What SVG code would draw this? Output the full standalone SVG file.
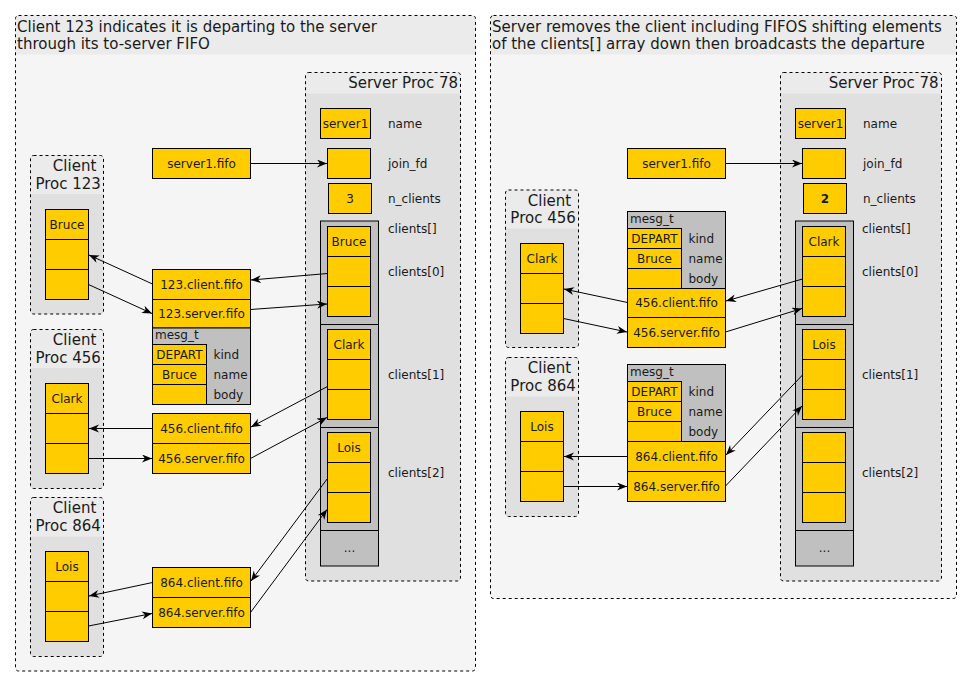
<svg xmlns="http://www.w3.org/2000/svg" width="972" height="687" viewBox="0 0 972 687">
<defs>
<style>
text{font-family:"DejaVu Sans","Liberation Sans",sans-serif;fill:#1a1a1a}
.t15{font-size:15px}
.t12{font-size:12px}
.mid{text-anchor:middle}
.end{text-anchor:end}
.y{fill:#ffcc00;stroke:#000;stroke-width:1}
.g{fill:#c0c0c0;stroke:#000;stroke-width:1}
.dash{fill:none;stroke:#000;stroke-width:1;stroke-dasharray:3 3}
.pbody{fill:#f5f5f5}
.pband{fill:#ebebeb}
.sbody{fill:#e0e0e0}
.sband{fill:#ebebeb}
.c{fill:none;stroke:#000;stroke-width:1;marker-end:url(#ah)}
</style>
<marker id="ah" markerUnits="userSpaceOnUse" markerWidth="11" markerHeight="9" refX="10" refY="4" orient="auto" viewBox="0 0 11 9">
<path d="M0,0 L10,4 L0,8 L3,4 Z" fill="#000"/>
</marker>
</defs>

<!-- ===== LEFT PANEL ===== -->
<g id="panel-left">
<rect class="pbody" x="15.5" y="15.5" width="460" height="655.5" rx="3"/>
<path class="pband" d="M15.5,54.5 V18.5 Q15.5,15.5 18.5,15.5 H472.5 Q475.5,15.5 475.5,18.5 V54.5 Z"/>
<rect class="dash" x="15.5" y="15.5" width="460" height="655.5" rx="3"/>
<text class="t15" x="17" y="32">Client 123 indicates it is departing to the server</text>
<text class="t15" x="17" y="48.5">through its to-server FIFO</text>
</g>

<g id="server-left">
<rect class="sbody" x="305.5" y="72.5" width="155" height="508.5" rx="3"/>
<path class="sband" d="M305.5,93.5 V75.5 Q305.5,72.5 308.5,72.5 H457.5 Q460.5,72.5 460.5,75.5 V93.5 Z"/>
<rect class="dash" x="305.5" y="72.5" width="155" height="508.5" rx="3"/>
<text class="t15 end" x="458" y="87.7">Server Proc 78</text>
<g id="l-name"><rect class="y" x="320.5" y="108.5" width="50" height="30"/><text class="t12 mid" x="345.5" y="127.5">server1</text></g>
<text class="t12" x="388" y="127.5">name</text>
<g id="l-joinfd"><rect class="y" x="327.5" y="148.5" width="43" height="30"/></g>
<text class="t12" x="388" y="167.5">join_fd</text>
<g id="l-nclients"><rect class="y" x="328.5" y="183.5" width="43" height="30"/><text class="t12 mid" x="350" y="202.5">3</text></g>
<text class="t12" x="388" y="202.5">n_clients</text>
<g id="l-clients">
<rect class="g" x="320.5" y="221" width="58" height="103.5"/>
<rect class="g" x="320.5" y="324.5" width="58" height="103"/>
<rect class="g" x="320.5" y="427.5" width="58" height="103"/>
<rect class="g" x="320.5" y="530.5" width="58" height="35.5"/>
<text class="t12 mid" x="349.5" y="552">...</text>
<rect class="y" x="327.5" y="226.5" width="43" height="30"/><text class="t12 mid" x="349" y="245.5">Bruce</text>
<rect class="y" x="327.5" y="256.5" width="43" height="30"/>
<rect class="y" x="327.5" y="286.5" width="43" height="30"/>
<rect class="y" x="327.5" y="329.5" width="43" height="30"/><text class="t12 mid" x="349" y="348.5">Clark</text>
<rect class="y" x="327.5" y="359.5" width="43" height="30"/>
<rect class="y" x="327.5" y="389.5" width="43" height="30"/>
<rect class="y" x="327.5" y="432.5" width="43" height="30"/><text class="t12 mid" x="349" y="451.5">Lois</text>
<rect class="y" x="327.5" y="462.5" width="43" height="30"/>
<rect class="y" x="327.5" y="492.5" width="43" height="30"/>
</g>
<text class="t12" x="388" y="233">clients[]</text>
<text class="t12" x="388" y="276">clients[0]</text>
<text class="t12" x="388" y="379">clients[1]</text>
<text class="t12" x="388" y="477">clients[2]</text>
</g>

<g id="l-server1fifo"><rect class="y" x="152.5" y="148.5" width="98" height="30"/><text class="t12 mid" x="201.5" y="167.5">server1.fifo</text></g>

<g id="l-fifo123">
<rect class="y" x="152.5" y="269.5" width="98" height="30"/><text class="t12 mid" x="201.5" y="288.5">123.client.fifo</text>
<rect class="y" x="152.5" y="299.5" width="98" height="28.5"/><text class="t12 mid" x="201.5" y="318">123.server.fifo</text>
<rect class="g" x="152.5" y="328" width="98" height="76.5"/>
<text class="t12" x="155" y="338.5">mesg_t</text>
<rect class="y" x="152.5" y="344.5" width="54" height="20"/><text class="t12 mid" x="179.5" y="358.5">DEPART</text>
<rect class="y" x="152.5" y="364.5" width="54" height="20"/><text class="t12 mid" x="179.5" y="379">Bruce</text>
<rect class="y" x="152.5" y="384.5" width="54" height="20"/>
<text class="t12" x="213.5" y="358.5">kind</text>
<text class="t12" x="213.5" y="379">name</text>
<text class="t12" x="213.5" y="399">body</text>
</g>
<g id="l-fifo456">
<rect class="y" x="152.5" y="413.5" width="98" height="30"/><text class="t12 mid" x="201.5" y="432.5">456.client.fifo</text>
<rect class="y" x="152.5" y="443.5" width="98" height="30"/><text class="t12 mid" x="201.5" y="462.5">456.server.fifo</text>
</g>
<g id="l-fifo864">
<rect class="y" x="152.5" y="567.5" width="98" height="30"/><text class="t12 mid" x="201.5" y="586.5">864.client.fifo</text>
<rect class="y" x="152.5" y="597.5" width="98" height="30"/><text class="t12 mid" x="201.5" y="616.5">864.server.fifo</text>
</g>

<g id="l-client123">
<rect class="sbody" x="30.5" y="155.5" width="73" height="158.5" rx="3"/>
<path class="sband" d="M30.5,194 V158.5 Q30.5,155.5 33.5,155.5 H100.5 Q103.5,155.5 103.5,158.5 V194 Z"/>
<rect class="dash" x="30.5" y="155.5" width="73" height="158.5" rx="3"/>
<text class="t15 end" x="96.3" y="171.3">Client</text>
<text class="t15 end" x="100.9" y="188.7">Proc 123</text>
<rect class="y" x="45.5" y="209.5" width="43" height="30"/><text class="t12 mid" x="67" y="228.5">Bruce</text>
<rect class="y" x="45.5" y="239.5" width="43" height="30"/>
<rect class="y" x="45.5" y="269.5" width="43" height="30"/>
</g>
<g id="l-client456">
<rect class="sbody" x="30.5" y="329.5" width="73" height="159" rx="3"/>
<path class="sband" d="M30.5,368 V332.5 Q30.5,329.5 33.5,329.5 H100.5 Q103.5,329.5 103.5,332.5 V368 Z"/>
<rect class="dash" x="30.5" y="329.5" width="73" height="159" rx="3"/>
<text class="t15 end" x="96.3" y="345.3">Client</text>
<text class="t15 end" x="100.9" y="362.7">Proc 456</text>
<rect class="y" x="45.5" y="383.5" width="43" height="30"/><text class="t12 mid" x="67" y="402.5">Clark</text>
<rect class="y" x="45.5" y="413.5" width="43" height="30"/>
<rect class="y" x="45.5" y="443.5" width="43" height="30"/>
</g>
<g id="l-client864">
<rect class="sbody" x="30.5" y="497.5" width="73" height="159" rx="3"/>
<path class="sband" d="M30.5,536.5 V500.5 Q30.5,497.5 33.5,497.5 H100.5 Q103.5,497.5 103.5,500.5 V536.5 Z"/>
<rect class="dash" x="30.5" y="497.5" width="73" height="159" rx="3"/>
<text class="t15 end" x="96.3" y="513.3">Client</text>
<text class="t15 end" x="100.9" y="530.7">Proc 864</text>
<rect class="y" x="45.5" y="551.5" width="43" height="30"/><text class="t12 mid" x="67" y="570.5">Lois</text>
<rect class="y" x="45.5" y="581.5" width="43" height="30"/>
<rect class="y" x="45.5" y="611.5" width="43" height="30"/>
</g>

<!-- ===== RIGHT PANEL ===== -->
<g id="panel-right">
<rect class="pbody" x="490.5" y="15.5" width="466" height="583" rx="3"/>
<path class="pband" d="M490.5,54.5 V18.5 Q490.5,15.5 493.5,15.5 H953.5 Q956.5,15.5 956.5,18.5 V54.5 Z"/>
<rect class="dash" x="490.5" y="15.5" width="466" height="583" rx="3"/>
<text class="t15" x="492" y="32">Server removes the client including FIFOS shifting elements</text>
<text class="t15" x="492" y="48.5">of the clients[] array down then broadcasts the departure</text>
</g>

<g id="server-right">
<rect class="sbody" x="780.5" y="72.5" width="161" height="508.5" rx="3"/>
<path class="sband" d="M780.5,93.5 V75.5 Q780.5,72.5 783.5,72.5 H938.5 Q941.5,72.5 941.5,75.5 V93.5 Z"/>
<rect class="dash" x="780.5" y="72.5" width="161" height="508.5" rx="3"/>
<text class="t15 end" x="938.5" y="87.7">Server Proc 78</text>
<g id="r-name"><rect class="y" x="795.5" y="108.5" width="50" height="30"/><text class="t12 mid" x="820.5" y="127.5">server1</text></g>
<text class="t12" x="863" y="127.5">name</text>
<g id="r-joinfd"><rect class="y" x="802.5" y="148.5" width="43" height="30"/></g>
<text class="t12" x="863" y="167.5">join_fd</text>
<g id="r-nclients"><rect class="y" x="803.5" y="183.5" width="43" height="30"/><text class="t12 mid" x="825" y="202.5" font-weight="bold">2</text></g>
<text class="t12" x="863" y="202.5">n_clients</text>
<g id="r-clients">
<rect class="g" x="795.5" y="221" width="58" height="103.5"/>
<rect class="g" x="795.5" y="324.5" width="58" height="103"/>
<rect class="g" x="795.5" y="427.5" width="58" height="103"/>
<rect class="g" x="795.5" y="530.5" width="58" height="35.5"/>
<text class="t12 mid" x="824.5" y="552">...</text>
<rect class="y" x="802.5" y="226.5" width="43" height="30"/><text class="t12 mid" x="824" y="245.5">Clark</text>
<rect class="y" x="802.5" y="256.5" width="43" height="30"/>
<rect class="y" x="802.5" y="286.5" width="43" height="30"/>
<rect class="y" x="802.5" y="329.5" width="43" height="30"/><text class="t12 mid" x="824" y="348.5">Lois</text>
<rect class="y" x="802.5" y="359.5" width="43" height="30"/>
<rect class="y" x="802.5" y="389.5" width="43" height="30"/>
<rect class="y" x="802.5" y="432.5" width="43" height="30"/>
<rect class="y" x="802.5" y="462.5" width="43" height="30"/>
<rect class="y" x="802.5" y="492.5" width="43" height="30"/>
</g>
<text class="t12" x="862" y="233">clients[]</text>
<text class="t12" x="862" y="276">clients[0]</text>
<text class="t12" x="862" y="379">clients[1]</text>
<text class="t12" x="862" y="477">clients[2]</text>
</g>

<g id="r-server1fifo"><rect class="y" x="627.5" y="148.5" width="98" height="30"/><text class="t12 mid" x="676.5" y="167.5">server1.fifo</text></g>

<g id="r-fifo456">
<rect class="g" x="627.5" y="211.5" width="98" height="77"/>
<text class="t12" x="630" y="222.5">mesg_t</text>
<rect class="y" x="627.5" y="228.5" width="54" height="20"/><text class="t12 mid" x="654.5" y="242.5">DEPART</text>
<rect class="y" x="627.5" y="248.5" width="54" height="20"/><text class="t12 mid" x="654.5" y="262.5">Bruce</text>
<rect class="y" x="627.5" y="268.5" width="54" height="20"/>
<text class="t12" x="688.5" y="242.5">kind</text>
<text class="t12" x="688.5" y="262.5">name</text>
<text class="t12" x="688.5" y="282.5">body</text>
<rect class="y" x="627.5" y="288.5" width="98" height="29"/><text class="t12 mid" x="676.5" y="307">456.client.fifo</text>
<rect class="y" x="627.5" y="317.5" width="98" height="30"/><text class="t12 mid" x="676.5" y="336.5">456.server.fifo</text>
</g>
<g id="r-fifo864">
<rect class="g" x="627.5" y="364.5" width="98" height="77"/>
<text class="t12" x="630" y="375.5">mesg_t</text>
<rect class="y" x="627.5" y="381.5" width="54" height="20"/><text class="t12 mid" x="654.5" y="395.5">DEPART</text>
<rect class="y" x="627.5" y="401.5" width="54" height="20"/><text class="t12 mid" x="654.5" y="415.5">Bruce</text>
<rect class="y" x="627.5" y="421.5" width="54" height="20"/>
<text class="t12" x="688.5" y="395.5">kind</text>
<text class="t12" x="688.5" y="415.5">name</text>
<text class="t12" x="688.5" y="435.5">body</text>
<rect class="y" x="627.5" y="441.5" width="98" height="30"/><text class="t12 mid" x="676.5" y="460.5">864.client.fifo</text>
<rect class="y" x="627.5" y="471.5" width="98" height="30"/><text class="t12 mid" x="676.5" y="490.5">864.server.fifo</text>
</g>

<g id="r-client456">
<rect class="sbody" x="505.5" y="190" width="73" height="157.5" rx="3"/>
<path class="sband" d="M505.5,228.5 V193 Q505.5,190 508.5,190 H575.5 Q578.5,190 578.5,193 V228.5 Z"/>
<rect class="dash" x="505.5" y="190" width="73" height="157.5" rx="3"/>
<text class="t15 end" x="571.2" y="205.7">Client</text>
<text class="t15 end" x="575.8" y="223.1">Proc 456</text>
<rect class="y" x="520.5" y="243.5" width="43" height="30"/><text class="t12 mid" x="542" y="262.5">Clark</text>
<rect class="y" x="520.5" y="273.5" width="43" height="30"/>
<rect class="y" x="520.5" y="303.5" width="43" height="30"/>
</g>
<g id="r-client864">
<rect class="sbody" x="505.5" y="357.5" width="73" height="159" rx="3"/>
<path class="sband" d="M505.5,396.5 V360.5 Q505.5,357.5 508.5,357.5 H575.5 Q578.5,357.5 578.5,360.5 V396.5 Z"/>
<rect class="dash" x="505.5" y="357.5" width="73" height="159" rx="3"/>
<text class="t15 end" x="571.2" y="373.3">Client</text>
<text class="t15 end" x="575.8" y="390.7">Proc 864</text>
<rect class="y" x="520.5" y="411.5" width="43" height="30"/><text class="t12 mid" x="542" y="430.5">Lois</text>
<rect class="y" x="520.5" y="441.5" width="43" height="30"/>
<rect class="y" x="520.5" y="471.5" width="43" height="30"/>
</g>

<!-- ===== CONNECTORS ===== -->
<g id="connectors">
<line class="c" x1="250.5" y1="163.5" x2="327" y2="163.5"/>
<line class="c" x1="327.5" y1="273.5" x2="251" y2="280"/>
<line class="c" x1="250.5" y1="309.5" x2="327" y2="304"/>
<line class="c" x1="152.5" y1="284" x2="89" y2="255"/>
<line class="c" x1="88.5" y1="284.5" x2="152" y2="313.5"/>
<line class="c" x1="327.5" y1="386.5" x2="251" y2="427"/>
<line class="c" x1="250.5" y1="458.5" x2="327" y2="417.5"/>
<line class="c" x1="152.5" y1="428.5" x2="89" y2="428.5"/>
<line class="c" x1="88.5" y1="458.5" x2="152" y2="458.5"/>
<line class="c" x1="327.5" y1="478.5" x2="251" y2="581"/>
<line class="c" x1="250.5" y1="612.5" x2="327" y2="509.5"/>
<line class="c" x1="152.5" y1="582.5" x2="89" y2="596"/>
<line class="c" x1="88.5" y1="626" x2="152" y2="613.5"/>

<line class="c" x1="725.5" y1="163.5" x2="802" y2="163.5"/>
<line class="c" x1="802.5" y1="279" x2="726" y2="301"/>
<line class="c" x1="725.5" y1="332" x2="802" y2="308.5"/>
<line class="c" x1="627.5" y1="302.5" x2="564" y2="289"/>
<line class="c" x1="563.5" y1="318.5" x2="627" y2="332"/>
<line class="c" x1="802.5" y1="375" x2="726" y2="455"/>
<line class="c" x1="725.5" y1="486" x2="802" y2="406"/>
<line class="c" x1="627.5" y1="456.5" x2="564" y2="456.5"/>
<line class="c" x1="563.5" y1="486.5" x2="627" y2="486.5"/>
</g>
</svg>
